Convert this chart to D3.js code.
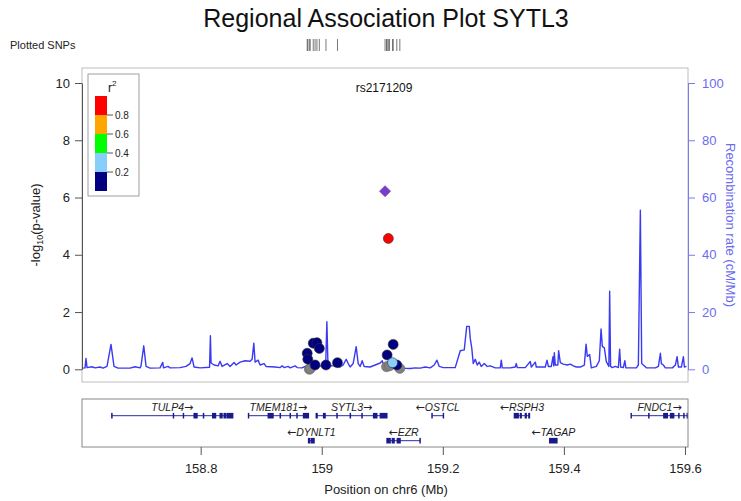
<!DOCTYPE html>
<html><head><meta charset="utf-8">
<script src="https://cdn.jsdelivr.net/npm/d3@7"></script>
<style>body{margin:0;background:#fff;} svg{display:block;font-family:"Liberation Sans",Arial,sans-serif;}</style>
</head><body><svg id="c" width="741" height="501"></svg>
<script>
// ---------- data ----------
const titleText = "Regional Association Plot SYTL3";
const leadSnpName = "rs2171209";
const leadSnp = {pos: 159.1046, logp: 6.22};
// SNPs: position (Mb), -log10 p, r2 class (-1 = no LD info)
const snpPos  = [158.9795,158.981,159.107,159.112,159.129, 158.986,158.992,158.996,158.976,158.977,158.989,159.007,159.026,159.118,159.108,159.124, 159.117, 159.110];
const snpLogP = [0.00,0.02,0.09,0.12,0.03, 0.91,0.93,0.73,0.56,0.35,0.15,0.15,0.23,0.87,0.50,0.15, 0.23, 4.57];
const snpR2   = [-1,-1,-1,-1,-1, 0.1,0.1,0.1,0.1,0.1,0.1,0.1,0.1,0.1,0.1,0.1, 0.3, 0.9];
// recombination rate (cM/Mb)
const recPos = [158.6040,158.6090,158.6106,158.6123,158.6205,158.6255,158.6338,158.6387,158.6453,158.6519,158.6569,158.6635,158.6833,158.6916,158.6999,158.7015,158.7060,158.7098,158.7164,158.7329,158.7374,158.7387,158.7461,158.7495,158.7660,158.7759,158.7825,158.7858,158.7891,158.7990,158.8147,158.8161,158.8172,158.8222,158.8288,158.8321,158.8354,158.8437,158.8486,158.8552,158.8585,158.8652,158.8734,158.8817,158.8850,158.8878,158.8899,158.8949,158.8982,158.9048,158.9081,158.9230,158.9313,158.9346,158.9379,158.9445,158.9478,158.9561,158.9594,158.9676,158.9742,158.9809,158.9941,159.0007,159.0065,159.0085,159.0103,159.0172,159.0238,159.0304,159.0354,159.0404,159.0437,159.0470,159.0519,159.0569,159.0602,159.0635,159.0668,159.0701,159.0800,159.0883,159.0966,159.0999,159.1032,159.1131,159.1214,159.1296,159.1462,159.1544,159.1627,159.1709,159.1792,159.1858,159.1903,159.1941,159.2007,159.2205,159.2288,159.2354,159.2395,159.2437,159.2453,159.2478,159.2503,159.2536,159.2569,159.2602,159.2635,159.2685,159.2734,159.2784,159.2866,159.2949,159.2966,159.2982,159.3114,159.3197,159.3214,159.3230,159.3362,159.3445,159.3462,159.3528,159.3544,159.3693,159.3721,159.3743,159.3792,159.3820,159.3833,159.3842,159.3858,159.3900,159.3913,159.3941,159.3990,159.4057,159.4106,159.4156,159.4205,159.4271,159.4338,159.4366,159.4387,159.4425,159.4453,159.4536,159.4585,159.4614,159.4635,159.4668,159.4701,159.4743,159.4756,159.4771,159.4800,159.4850,159.4900,159.4921,159.4938,159.4982,159.5007,159.5023,159.5197,159.5230,159.5263,159.5285,159.5313,159.5362,159.5511,159.5561,159.5594,159.5610,159.5643,159.5676,159.5792,159.5842,159.5870,159.5891,159.5941,159.5974,159.5990,159.6024];
const recRate = [0.4,0.5,3.8,0.6,0.9,0.5,0.8,0.4,1.0,8.7,1.0,0.4,0.4,0.9,0.5,1.2,8.2,1.0,0.4,0.5,2.4,0.5,1.0,0.5,0.6,1.0,2.0,4.0,0.8,0.5,0.7,11.7,2.2,1.5,1.2,2.8,1.0,2.0,1.0,2.4,1.5,2.5,3.0,2.8,3.5,9.1,2.5,3.2,1.5,2.0,1.0,0.8,0.6,1.2,0.6,1.0,0.5,1.2,0.6,0.5,1.2,1.0,1.3,1.0,1.5,16.6,1.5,1.2,1.3,0.8,1.5,3.5,2.0,0.8,2.0,7.9,2.0,1.0,3.0,1.0,0.8,1.5,2.2,3.0,1.0,0.8,0.6,0.4,0.3,0.5,0.4,0.8,0.5,1.5,3.2,1.0,0.6,0.6,6.5,6.8,15.0,15.0,10.8,7.5,2.0,3.5,1.5,2.5,1.0,2.0,1.0,1.2,0.5,0.5,3.2,0.5,0.5,0.8,2.0,0.6,0.6,2.7,0.8,2.5,0.8,0.8,3.2,1.0,1.0,4.4,1.2,5.8,1.5,1.5,6.5,2.3,1.8,1.5,1.8,1.2,0.8,0.8,1.5,8.8,4.5,5.2,0.5,1.0,3.0,14.1,8.0,7.5,2.7,1.0,27.3,1.0,0.6,1.0,0.6,7.0,0.8,0.6,3.0,0.5,0.5,1.5,55.6,2.0,1.5,0.5,0.5,1.0,5.6,2.0,1.5,0.5,0.5,1.5,4.4,0.8,0.8,4.4,0.8,1.0];
// genes
const geneNames  = ["TULP4","TMEM181","SYTL3","DYNLT1","EZR","OSTCL","RSPH3","TAGAP","FNDC1"];
const geneStart  = [158.6531,158.8789,158.9908,158.9781,159.1077,159.1820,159.3181,159.3764,159.5110];
const geneEnd    = [158.8531,158.9781,159.1077,158.9875,159.1627,159.2012,159.3433,159.3886,159.6053];
const geneStrand = ["+","+","+","-","-","-","-","-","+"];
const geneRow    = [0,0,0,1,1,0,0,1,0];
const geneExons  = [
  [[158.6531,158.6536],[158.7549,158.7553],[158.7714,158.7718],[158.7891,158.7941],[158.8045,158.8050],[158.8197,158.8247],[158.8321,158.8354],[158.8387,158.8420],[158.8445,158.8531]],
  [[158.8789,158.8793],[158.9115,158.9197],[158.9313,158.9318],[158.9478,158.9483],[158.9589,158.9594],[158.9698,158.9781]],
  [[158.9908,158.9925],[159.0029,159.0057],[159.0250,159.0255],[159.0470,159.0475],[159.0663,159.0668],[159.0855,159.0911],[159.0966,159.1077]],
  [[158.9781,158.9801],[158.9826,158.9875]],
  [[159.1077,159.1131],[159.1164,159.1197],[159.1247,159.1296],[159.1622,159.1627]],
  [[159.1820,159.1824],[159.2008,159.2012]],
  [[159.3181,159.3247],[159.3280,159.3296],[159.3362,159.3379],[159.3420,159.3433]],
  [[159.3764,159.3886]],
  [[159.5110,159.5114],[159.5401,159.5406],[159.5649,159.5710],[159.5760,159.5815],[159.5897,159.5902],[159.5980,159.5985],[159.6036,159.6041]]
];
const xTicks = [158.8,159,159.2,159.4,159.6];
const yTicks = [0,2,4,6,8,10];
const recTicks = [0,20,40,60,80,100];
const legendBreaks = [0.8,0.6,0.4,0.2];
const legendColors = ["#FF0000","#FFA500","#00FF00","#87CEFA","#000080"];

// ---------- drawing ----------
const svg = d3.select("#c");
const P = {l:82, r:688, t:68, b:382};
const x = d3.scaleLinear().domain([158.604,159.605]).range([P.l,P.r]);
const y = d3.scaleLinear().domain([0,10]).range([369.3,83]);
const yR = d3.scaleLinear().domain([0,100]).range([369.3,83]);
const r2col = v => v<0 ? "#808080" : v>0.8 ? legendColors[0] : v>0.6 ? legendColors[1] : v>0.4 ? legendColors[2] : v>0.2 ? legendColors[3] : legendColors[4];

svg.append("text").attr("x",386).attr("y",27).attr("text-anchor","middle")
  .attr("font-size",25).attr("fill","#111").text(titleText);
svg.append("text").attr("x",10).attr("y",49).attr("font-size",11).attr("fill","#222").text("Plotted SNPs");
svg.append("g").selectAll("line").data(snpPos.concat([leadSnp.pos])).join("line")
  .attr("x1",d=>x(d)).attr("x2",d=>x(d)).attr("y1",39).attr("y2",51)
  .attr("stroke","#555").attr("stroke-width",0.8);

svg.append("defs").append("clipPath").attr("id","clp").append("rect")
  .attr("x",P.l).attr("y",P.t).attr("width",P.r-P.l).attr("height",P.b-P.t);

// recombination line
const recData = recPos.map((p,i)=>[p,recRate[i]]);
svg.append("path").datum(recData).attr("clip-path","url(#clp)")
  .attr("d",d3.line().x(d=>x(d[0])).y(d=>yR(d[1])))
  .attr("fill","none").attr("stroke","#3a3af2").attr("stroke-width",1.4).attr("stroke-linejoin","round");

// panel box
svg.append("rect").attr("x",P.l).attr("y",P.t).attr("width",P.r-P.l).attr("height",P.b-P.t)
  .attr("fill","none").attr("stroke","#bdbdbd").attr("stroke-width",1);

// points
const snps = snpPos.map((p,i)=>({p, v:snpLogP[i], r:snpR2[i]})).sort((a,b)=>a.r-b.r);
svg.append("g").selectAll("circle").data(snps).join("circle")
  .attr("cx",d=>x(d.p)).attr("cy",d=>y(d.v)).attr("r",5)
  .attr("fill",d=>r2col(d.r)).attr("stroke",d=>d.r<0?"#6a6a6a":"#333").attr("stroke-width",0.6);
svg.append("path").attr("d",d3.symbol().type(d3.symbolSquare).size(62)())
  .attr("transform",`translate(${x(leadSnp.pos)},${y(leadSnp.logp)}) rotate(45)`)
  .attr("fill","#7a3fc8").attr("stroke","#5a2a9a").attr("stroke-width",0.5);
svg.append("text").attr("x",x(leadSnp.pos)-1).attr("y",92).attr("text-anchor","middle")
  .attr("font-size",12).attr("fill","#111").text(leadSnpName);

// left axis
const ax = svg.append("g").attr("transform",`translate(${P.l},0)`)
  .call(d3.axisLeft(y).tickValues(yTicks).tickSize(7).tickSizeOuter(0).tickPadding(5));
ax.selectAll("text").attr("font-size",13).attr("fill","#222").attr("font-family","Liberation Sans, Arial, sans-serif");
ax.selectAll("line,path").attr("stroke","#555");
const lt = svg.append("text").attr("transform","translate(40,225) rotate(-90)").attr("text-anchor","middle")
  .attr("font-size",13).attr("fill","#222");
lt.append("tspan").text("-log");
lt.append("tspan").attr("font-size",9).attr("dy",3).text("10");
lt.append("tspan").attr("dy",-3).text("(p-value)");

// right axis
const axR = svg.append("g").attr("transform",`translate(${P.r},0)`)
  .call(d3.axisRight(yR).tickValues(recTicks).tickSize(7).tickSizeOuter(0).tickPadding(7));
axR.selectAll("text").attr("font-size",13).attr("fill","#6b6bee").attr("font-family","Liberation Sans, Arial, sans-serif");
axR.selectAll("line,path").attr("stroke","#7b7bf0");
svg.append("text").attr("transform","translate(726,225) rotate(90)").attr("text-anchor","middle")
  .attr("font-size",13).attr("fill","#6b6bee").text("Recombination rate (cM/Mb)");

// legend
const lg = svg.append("g");
lg.append("rect").attr("x",88).attr("y",74).attr("width",51).attr("height",122)
  .attr("fill","#fff").attr("stroke","#888").attr("stroke-width",0.8);
const lgs = d3.scaleLinear().domain([1,0]).range([96,191]);
const lgt = lg.append("text").attr("x",108).attr("y",92).attr("font-size",12).attr("fill","#111");
lgt.append("tspan").text("r");
lgt.append("tspan").attr("font-size",8).attr("dy",-6).text("2");
lg.selectAll("rect.c").data(legendColors).join("rect").attr("class","c")
  .attr("x",95).attr("y",(d,i)=>lgs(1-0.2*i)).attr("width",12).attr("height",lgs(0)-lgs(0.2))
  .attr("fill",d=>d);
lg.selectAll("line.t").data(legendBreaks).join("line").attr("class","t")
  .attr("x1",107).attr("x2",113).attr("y1",d=>lgs(d)).attr("y2",d=>lgs(d)).attr("stroke","#555");
lg.selectAll("text.l").data(legendBreaks).join("text").attr("class","l")
  .attr("x",115).attr("y",d=>lgs(d)+4).attr("font-size",10).attr("fill","#222").text(d=>d);

// gene panel
const G = {t:399, b:447};
svg.append("defs").append("clipPath").attr("id","clg").append("rect")
  .attr("x",P.l).attr("y",G.t).attr("width",P.r-P.l).attr("height",G.b-G.t);
const rowY = [415.7,440.7];
const gg = svg.append("g").attr("clip-path","url(#clg)");
geneNames.forEach((n,i)=>{
  const yy = rowY[geneRow[i]];
  const g = gg.append("g");
  g.append("line").attr("x1",x(geneStart[i])).attr("x2",x(geneEnd[i])).attr("y1",yy).attr("y2",yy)
    .attr("stroke","#2a2aa0").attr("stroke-width",1);
  g.selectAll("rect").data(geneExons[i]).join("rect")
    .attr("x",d=>x(d[0])-0.6).attr("width",d=>Math.max(1.4,x(d[1])-x(d[0])+1.2))
    .attr("y",yy-2.8).attr("height",5.6).attr("fill","#1a1a8c");
  const t = g.append("text").attr("x",(x(geneStart[i])+Math.min(x(geneEnd[i]),P.r))/2).attr("y",yy-4.5)
    .attr("text-anchor","middle").attr("font-size",10.5).attr("font-style","italic").attr("fill","#222");
  const arrow = s => t.append("tspan").attr("font-family","DejaVu Sans").attr("font-style","normal").attr("font-size",11).text(s);
  if (geneStrand[i]==="-") arrow("\u2190");
  t.append("tspan").text(n);
  if (geneStrand[i]==="+") arrow("\u2192");
});
svg.append("rect").attr("x",P.l).attr("y",G.t).attr("width",P.r-P.l).attr("height",G.b-G.t)
  .attr("fill","none").attr("stroke","#888").attr("stroke-width",1);

const axB = svg.append("g").attr("transform",`translate(0,${G.b})`)
  .call(d3.axisBottom(x).tickValues(xTicks).tickSize(8).tickPadding(9).tickFormat(d=>String(+d.toFixed(1))));
axB.select(".domain").remove();
axB.selectAll("text").attr("font-size",13).attr("fill","#222").attr("font-family","Liberation Sans, Arial, sans-serif");
axB.selectAll("line").attr("stroke","#555");
svg.append("text").attr("x",386).attr("y",494).attr("text-anchor","middle")
  .attr("font-size",13).attr("fill","#222").text("Position on chr6 (Mb)");
</script></body></html>
